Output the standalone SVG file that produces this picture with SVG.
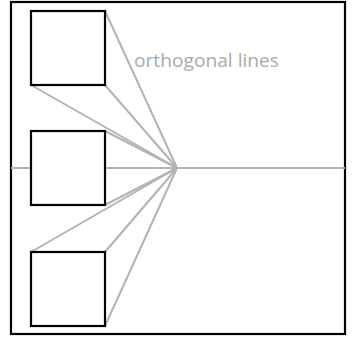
<svg xmlns="http://www.w3.org/2000/svg" width="354" height="339" viewBox="0 0 354 339">
<style>
.frame{fill:#fff;stroke:#000;stroke-width:2.2}
.node{fill:#fff;stroke:#000;stroke-width:2.2}
.conn line{stroke:#b3b3b3;stroke-width:2}
.lbl{font-family:"Open Sans","Liberation Sans",sans-serif;font-size:18px;fill:#aaa}
</style>
<rect class="frame" x="11" y="2" width="334" height="332"/>
<g id="connectors" class="conn">
<line x1="11" y1="168" x2="345" y2="168"/>
<line x1="105" y1="11" x2="177" y2="168"/>
<line x1="31" y1="85" x2="177" y2="168"/>
<line x1="105" y1="85" x2="177" y2="168"/>
<line x1="105" y1="131" x2="177" y2="168"/>
<line x1="105" y1="205" x2="177" y2="168"/>
<line x1="31" y1="252" x2="177" y2="168"/>
<line x1="105" y1="252" x2="177" y2="168"/>
<line x1="105" y1="326" x2="177" y2="168"/>
</g>
<g id="node1"><rect class="node" x="31" y="11" width="74" height="74"/></g>
<g id="node2"><rect class="node" x="31" y="131" width="74" height="74"/></g>
<g id="node3"><rect class="node" x="31" y="252" width="74" height="74"/></g>
<text class="lbl" x="134" y="67" textLength="145" lengthAdjust="spacingAndGlyphs">orthogonal lines</text>
</svg>
